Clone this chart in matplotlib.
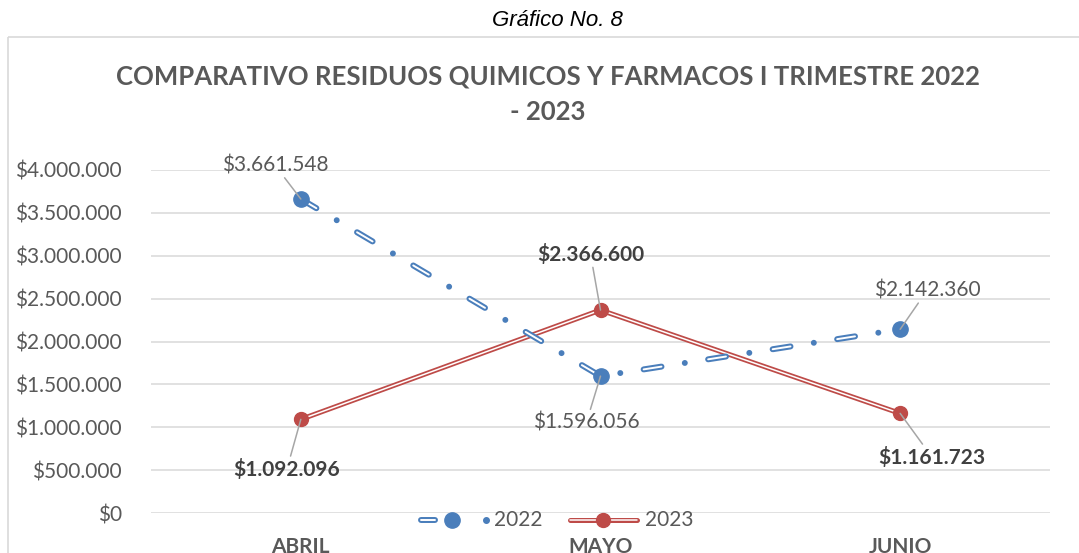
import matplotlib
matplotlib.use("Agg")
import matplotlib.pyplot as plt
from matplotlib.patches import Rectangle
from matplotlib.lines import Line2D
from matplotlib.ticker import FuncFormatter

plt.rcParams["font.family"] = ["Lato", "DejaVu Sans"]
plt.rcParams["lines.scale_dashes"] = False

meses = ["ABRIL", "MAYO", "JUNIO"]
valores_2022 = [3661548, 1596056, 2142360]
valores_2023 = [1092096, 2366600, 1161723]
series = ["2022", "2023"]
# desplazamiento (px) de cada etiqueta respecto a su punto
offs_2022 = [(-26, 34), (-14, -46), (27, 39)]
offs_2023 = [(-14, -50), (-10, 56), (32, -44)]

AZUL = "#4A7EBB"
ROJO = "#BE4B48"
GRIS = "#595959"
GRIS_OSC = "#404040"
GRID = "#D9D9D9"

W, H = 1079, 553

# guion-punto con trazo doble (exterior azul, interior blanco)
DASH_EXT = [13, 17, 0.01, 17]
DASH_INT = [13, 34.01]


def pesos(v, pos=None):
    return "$" + f"{int(round(v)):,}".replace(",", ".")


def px(x, y):
    # pixeles (origen arriba-izquierda) a fraccion de figura
    return x / W, 1 - y / H


fig = plt.figure(figsize=(W / 100, H / 100), dpi=100)
ax = fig.add_axes([151 / W, 40 / H, 899 / W, 343 / H])

# marco del grafico
fig.patches.append(Rectangle(px(8, 37), 1.2, -1.2, transform=fig.transFigure,
                             fill=False, edgecolor=GRID, lw=1.2))

x = list(range(len(meses)))

ax.plot(x, valores_2022, color=AZUL, lw=4.3, dashes=DASH_EXT,
        dash_capstyle="round", zorder=4)
ax.plot(x, valores_2022, color="white", lw=1.4, dashes=DASH_INT,
        dash_capstyle="round", zorder=4.1)

ax.plot(x, valores_2023, color=ROJO, lw=3.6, solid_capstyle="round", zorder=3)
ax.plot(x, valores_2023, color="white", lw=1.1, solid_capstyle="round",
        zorder=3.1)

ax.plot(x, valores_2022, "o", color=AZUL, ms=11, zorder=5)
ax.plot(x, valores_2023, "o", color=ROJO, ms=10, zorder=5)

flecha = dict(arrowstyle="-", color="#A6A6A6", lw=1.1, shrinkA=0, shrinkB=0)
for xi, v, o in zip(x, valores_2022, offs_2022):
    ax.annotate(pesos(v), (xi, v), xytext=o, textcoords="offset pixels",
                ha="center", va="center", fontsize=15, color=GRIS,
                arrowprops=flecha, zorder=6)
for xi, v, o in zip(x, valores_2023, offs_2023):
    ax.annotate(pesos(v), (xi, v), xytext=o, textcoords="offset pixels",
                ha="center", va="center", fontsize=15, color=GRIS_OSC,
                fontweight="bold", arrowprops=flecha, zorder=6)

ax.set_xlim(-0.5, 2.5)
ax.set_ylim(0, 4000000)
ax.set_yticks(range(0, 4000001, 500000))
ax.yaxis.set_major_formatter(FuncFormatter(pesos))
ax.set_xticks(x)
ax.set_xticklabels(meses, fontweight="bold")
ax.grid(axis="y", color=GRID, lw=1.1)
ax.set_axisbelow(True)
for s in ax.spines.values():
    s.set_visible(False)
ax.tick_params(axis="y", length=0, pad=21, labelsize=15, labelcolor=GRIS)
ax.tick_params(axis="x", length=0, pad=17, labelsize=15, labelcolor=GRIS)

# leyenda dibujada a mano
yl = 520
for xs, c, lw in [((421, 435), AZUL, 4.3), ((421, 435), "white", 1.4),
                  ((570, 637), ROJO, 3.6), ((570, 637), "white", 1.1)]:
    (x0, y0), (x1, y1) = px(xs[0], yl), px(xs[1], yl)
    fig.add_artist(Line2D([x0, x1], [y0, y1], color=c, lw=lw,
                          solid_capstyle="round", transform=fig.transFigure))
for xm, c, ms in [(452, AZUL, 11), (486, AZUL, 4), (603, ROJO, 10)]:
    fx, fy = px(xm, yl)
    fig.add_artist(Line2D([fx], [fy], ls="none", marker="o", color=c, ms=ms,
                          transform=fig.transFigure))
for xt, s in zip([494, 645], series):
    fig.text(*px(xt, yl), s, ha="left", va="center", fontsize=15, color=GRIS)

fig.text(*px(548, 94),
         "COMPARATIVO RESIDUOS QUIMICOS Y FARMACOS I TRIMESTRE 2022\n- 2023",
         ha="center", va="center", fontsize=18.5, fontweight="bold",
         color=GRIS, linespacing=1.6)
fig.text(*px(557, 21), "Gráfico No. 8", ha="center", va="center",
         fontsize=16, style="italic", color="black",
         family=["Liberation Sans", "DejaVu Sans"])

fig.savefig("out.png", dpi=100)
